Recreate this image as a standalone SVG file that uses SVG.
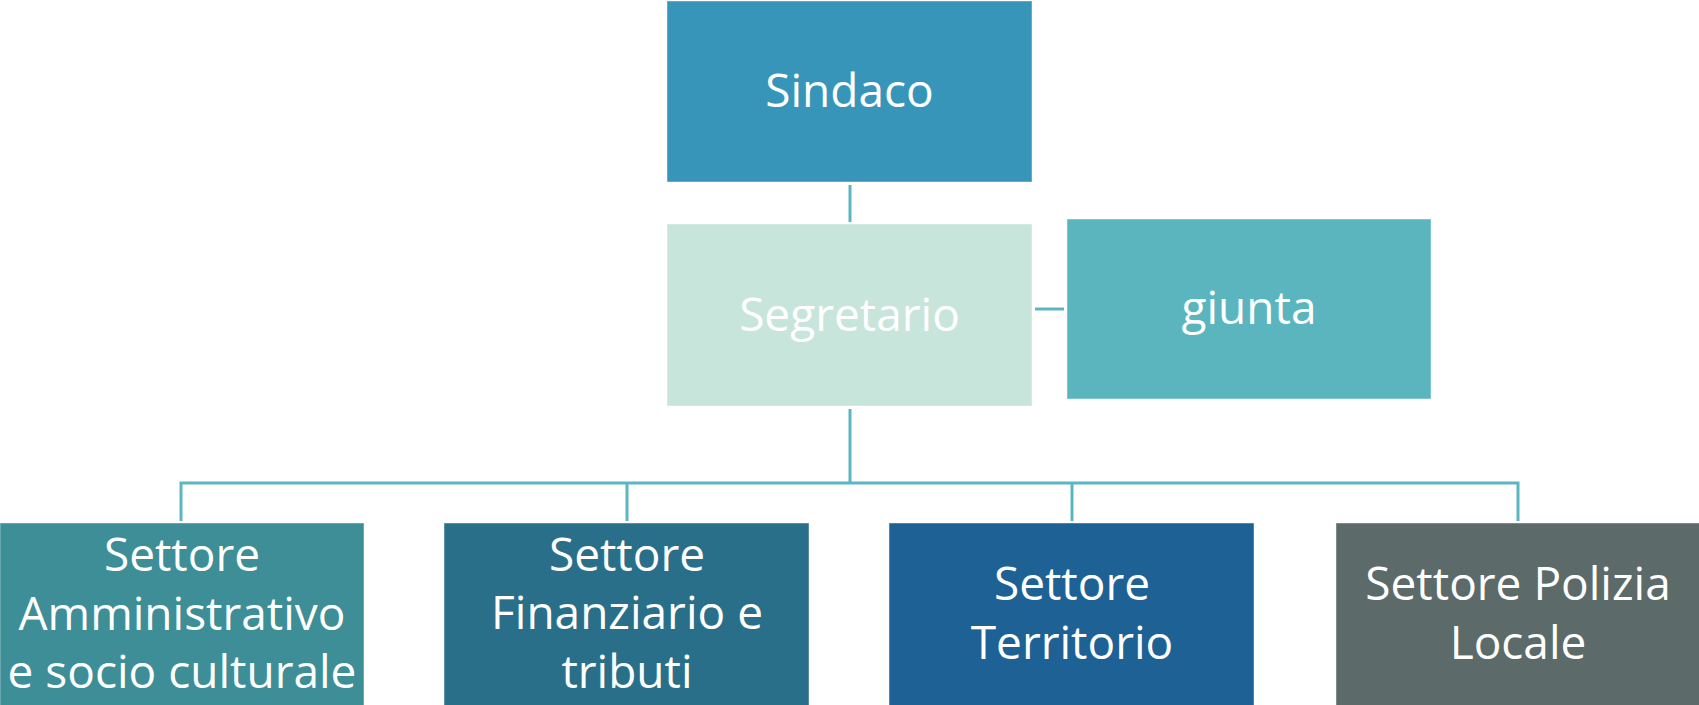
<svg xmlns="http://www.w3.org/2000/svg" width="1699" height="705" viewBox="0 0 1699 705">
<style>
.box{stroke:#ffffff;stroke-opacity:0.45;stroke-width:1}
.t{font-family:"Open Sans","Noto Sans",sans-serif;font-size:46px;fill:#ffffff;text-anchor:middle}
.c{stroke:#5ab6c0;stroke-width:3;fill:none}
</style>
<rect width="1699" height="705" fill="#ffffff"/>
<g id="connectors">
<line class="c" x1="850" y1="185" x2="850" y2="222"/>
<line class="c" x1="1035" y1="309" x2="1064" y2="309"/>
<line class="c" x1="850" y1="409" x2="850" y2="483"/>
<polyline class="c" points="181,521 181,483 1518,483 1518,521"/>
<line class="c" x1="627" y1="483" x2="627" y2="521"/>
<line class="c" x1="1072" y1="483" x2="1072" y2="521"/>
</g>
<g id="sindaco">
<rect class="box" x="667" y="1" width="365" height="181" fill="#3795ba"/>
<text class="t" x="849.5" y="107">Sindaco</text>
</g>
<g id="segretario">
<rect class="box" x="667" y="224" width="365" height="182" fill="#c8e5dc"/>
<text class="t" x="849.5" y="331">Segretario</text>
</g>
<g id="giunta">
<rect class="box" x="1067" y="219" width="364" height="180" fill="#5ab5bf"/>
<text class="t" x="1249" y="324">giunta</text>
</g>
<g id="settore-amministrativo">
<rect class="box" x="0" y="523" width="364" height="200" fill="#3d8e97"/>
<text class="t" x="182" y="571">Settore</text>
<text class="t" x="182" y="630">Amministrativo</text>
<text class="t" x="182" y="688">e socio culturale</text>
</g>
<g id="settore-finanziario">
<rect class="box" x="444" y="523" width="365" height="200" fill="#2a6f89"/>
<text class="t" x="627" y="571">Settore</text>
<text class="t" x="627" y="629">Finanziario e</text>
<text class="t" x="627" y="688">tributi</text>
</g>
<g id="settore-territorio">
<rect class="box" x="889" y="523" width="365" height="200" fill="#1e6195"/>
<text class="t" x="1072" y="600">Settore</text>
<text class="t" x="1072" y="659">Territorio</text>
</g>
<g id="settore-polizia">
<rect class="box" x="1336" y="523" width="370" height="200" fill="#5c6a6a"/>
<text class="t" x="1518" y="600">Settore Polizia</text>
<text class="t" x="1518" y="659">Locale</text>
</g>
</svg>
